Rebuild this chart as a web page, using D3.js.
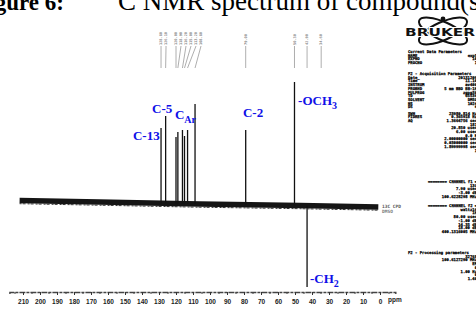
<!DOCTYPE html>
<html>
<head>
<meta charset="utf-8">
<script src="https://cdnjs.cloudflare.com/ajax/libs/d3/7.8.5/d3.min.js"></script>
<style>
  body { margin: 0; background: #fff; }
  svg { display: block; }
</style>
</head>
<body>
<svg></svg>
<script>
let width = 476
let height = 312

// peaks (ppm, intensity; zero level = 0)
let peakPpm = [128.8, 126.1, 120.0, 118.9, 116.2, 115.0, 113.2, 108.8, 79.0, 50.3, 42.9]
let peakHeight = [72, 84, 63, 68, 70, 64, 70, 96, 70, 118, -87]

// extra annotated line (solvent) that has no visible peak
let extraAnnotPpm = [34.6]

// baseline drift of the noisy trace
let baselinePpm = [212, 165, 106, 47, 1]
let baselineLevel = [-0.5, -2, -4, -5.5, -7]

let tickValues = [210, 200, 190, 180, 170, 160, 150, 140, 130, 120, 110, 100, 90, 80, 70, 60, 50, 40, 30, 20, 10, 0]

// assignment labels (anchor in ppm / intensity)
let labelText = ['C-13', 'C-5', 'C', 'C-2', '-OCH', '-CH']
let labelSub = ['', '', 'Ar', '', '3', '2']
let labelPpm = [145.3, 134.1, 120.6, 80.6, 48.2, 41.2]
let labelLevel = [60, 87, 81, 83, 95, -83]

// Bruker parameter listing
let paramGroups = ['Current Data Parameters', 'F2 - Acquisition Parameters', '======== CHANNEL f1 ========', '======== CHANNEL f2 ========', 'F2 - Processing parameters']
let paramKeys = [
    ['NAME', 'EXPNO', 'PROCNO'],
    ['Date_', 'Time', 'INSTRUM', 'PROBHD', 'PULPROG', 'TD', 'SOLVENT', 'NS', 'DS', 'SWH', 'FIDRES', 'AQ', '', '', '', '', '', '', '', ''],
    ['', '', '', ''],
    ['', '', '', '', '', '', ''],
    ['', '', '', '', '', '', '']
]
let paramValues = [
    ['exp5', '10', '1'],
    ['20131209', '11.10', 'av400', '5 mm BBO BB-1H', 'zgpg30', '65536', 'DMSO', '1024', '4', '23980.814 Hz', '0.365918 Hz', '1.3664756 sec', '181', '20.850 usec', '6.00 usec', '0.0 K', '2.00000000 sec', '0.03000000 sec', '1.89999998 sec', '1'],
    ['13C', '7.90 usec', '-3.00 dB', '100.6228298 MHz'],
    ['waltz16', '1H', '80.00 usec', '-1.00 dB', '14.35 dB', '18.00 dB', '400.1316005 MHz'],
    ['32768', '100.6127290 MHz', 'EM', '0', '1.00 Hz', '0', '1.40']
]

let svg = d3.select('svg')
    .attr('width', width)
    .attr('height', height)

let xScale = d3.scaleLinear().domain([210, 0]).range([23, 380])
let yScale = d3.scaleLinear().domain([-90, 125]).range([290, 75])
let baseAt = d3.scaleLinear().domain(baselinePpm).range(baselineLevel)

let drawTitle = () => {
    svg.append('text')
       .attr('x', 64)
       .attr('y', 10)
       .attr('text-anchor', 'end')
       .style('font', 'bold 23px "Liberation Serif"')
       .text('Figure 6:')

    let t = svg.append('text')
       .attr('x', 103)
       .attr('y', 10)
       .style('font', '27px "Liberation Serif"')
    t.append('tspan').attr('font-size', 15).attr('dy', -11).text('13')
    t.append('tspan').attr('dy', 11).text('C NMR spectrum of compound(s)')
}

let drawSpectrum = () => {
    let line = d3.line()
        .x((d) => xScale(d[0]))
        .y((d) => yScale(d[1]))

    let pts = baselinePpm.map((p, i) => [p, baselineLevel[i]])

    svg.append('path')
       .datum(pts)
       .attr('d', line)
       .attr('fill', 'none')
       .attr('stroke', '#151515')
       .attr('stroke-width', 5.5)

    svg.append('path')
       .datum(pts)
       .attr('d', line)
       .attr('fill', 'none')
       .attr('stroke', '#333')
       .attr('stroke-width', 1)
       .attr('stroke-dasharray', '2 1 3 2')
       .attr('transform', 'translate(0,3.2)')

    svg.selectAll('.peak')
       .data(peakPpm.map((p, i) => [p, peakHeight[i]]))
       .enter()
       .append('line')
       .attr('class', 'peak')
       .attr('x1', (d) => xScale(d[0]))
       .attr('x2', (d) => xScale(d[0]))
       .attr('y1', (d) => yScale(baseAt(d[0])))
       .attr('y2', (d) => yScale(d[1]))
       .attr('stroke', '#111')
       .attr('stroke-width', 1.3)
}

let drawAnnotations = () => {
    let ppms = peakPpm.concat(extraAnnotPpm).sort((a, b) => b - a)
    let cols = []
    ppms.forEach((p, i) => {
        let cx = xScale(p)
        if (i > 0 && cx < cols[i - 1] + 5) cx = cols[i - 1] + 5
        cols.push(cx)
    })
    let g = svg.append('g')
    ppms.forEach((p, i) => {
        g.append('text')
         .attr('transform', 'translate(' + (cols[i] + 1.2) + ',45) rotate(-90)')
         .style('font', 'bold 3.6px "DejaVu Sans Mono"')
         .attr('fill', '#888')
         .text(p.toFixed(2))
        g.append('line')
         .attr('x1', cols[i]).attr('y1', 46)
         .attr('x2', xScale(p)).attr('y2', 68)
         .attr('stroke', '#999')
         .attr('stroke-width', 0.8)
    })
}

let drawLabels = () => {
    labelText.forEach((s, i) => {
        let t = svg.append('text')
           .attr('x', xScale(labelPpm[i]))
           .attr('y', yScale(labelLevel[i]))
           .attr('fill', '#1010e8')
           .style('font', 'bold 13px "Liberation Serif"')
        t.append('tspan').text(s)
        if (labelSub[i] != '') {
            t.append('tspan')
             .attr('dy', 4)
             .attr('font-size', 10)
             .text(labelSub[i])
        }
    })
}

let drawAxis = () => {
    let axisScale = xScale.copy().domain([218, -9]).range([xScale(218), xScale(-9)])
    let minor = d3.range(215, -9, -5)
    svg.append('g')
       .attr('transform', 'translate(0,292)')
       .call(d3.axisBottom(axisScale).tickValues(minor).tickSize(2).tickFormat(''))
       .call((g) => g.selectAll('path, line').attr('stroke', '#444'))
       .call((g) => g.select('.domain').attr('stroke-width', 1.4).attr('stroke-dasharray', '6 1 3 1'))

    svg.append('g')
       .attr('transform', 'translate(0,292)')
       .call(d3.axisBottom(axisScale).tickValues(tickValues).tickSize(3).tickSizeOuter(0).tickPadding(4))
       .call((g) => g.select('.domain').remove())
       .call((g) => g.selectAll('line').attr('stroke', '#333'))
       .call((g) => g.selectAll('text')
           .style('font', 'bold 6.5px "Liberation Sans"')
           .attr('fill', '#222'))

    svg.append('text')
       .attr('x', 388)
       .attr('y', 302)
       .style('font', 'bold 6.5px "Liberation Sans"')
       .attr('fill', '#222')
       .text('ppm')
}

let drawBruker = () => {
    let logo = svg.append('g')
    logo.append('ellipse')
        .attr('cx', 443).attr('cy', 31).attr('rx', 26).attr('ry', 9)
        .attr('transform', 'rotate(24,443,31)')
        .attr('fill', 'none').attr('stroke', '#111').attr('stroke-width', 2)
    logo.append('ellipse')
        .attr('cx', 443).attr('cy', 31).attr('rx', 26).attr('ry', 9)
        .attr('transform', 'rotate(-24,443,31)')
        .attr('fill', 'none').attr('stroke', '#111').attr('stroke-width', 2)
    logo.append('circle').attr('cx', 443).attr('cy', 19).attr('r', 2.4).attr('fill', '#111')
    logo.append('text')
        .attr('x', 405).attr('y', 36)
        .attr('textLength', 70).attr('lengthAdjust', 'spacingAndGlyphs')
        .attr('stroke', '#fff').attr('stroke-width', 2).attr('paint-order', 'stroke')
        .style('font', 'bold 11px "DejaVu Sans"')
        .attr('fill', '#111')
        .text('BRUKER')

    let groupY = [53, 75, 183, 207, 254]
    let step = 3.7
    let g = svg.append('g')
        .style('font', 'bold 3.9px "DejaVu Sans Mono"')
        .attr('fill', '#000')
        .attr('stroke', '#000')
        .attr('stroke-width', 0.25)
    paramGroups.forEach((h, k) => {
        g.append('text').attr('x', k == 2 || k == 3 ? 428 : 408).attr('y', groupY[k]).text(h)
        paramKeys[k].forEach((key, i) => {
            let y = groupY[k] + step * (i + 1) + (k == 1 && i >= 9 ? 2.5 : 0)
            if (key != '') g.append('text').attr('x', 408).attr('y', y).text(key)
            g.append('text').attr('x', 477).attr('y', y).attr('text-anchor', 'end').text(paramValues[k][i])
        })
    })

    svg.append('text')
       .attr('x', 382).attr('y', 208)
       .style('font', 'bold 4.5px "DejaVu Sans Mono"')
       .attr('fill', '#555')
       .text('13C CPD')
    svg.append('text')
       .attr('x', 382).attr('y', 212.5)
       .style('font', 'bold 4.5px "DejaVu Sans Mono"')
       .attr('fill', '#777')
       .text('DMSO')
}

drawTitle()
drawAnnotations()
drawSpectrum()
drawLabels()
drawAxis()
drawBruker()
</script>
</body>
</html>
